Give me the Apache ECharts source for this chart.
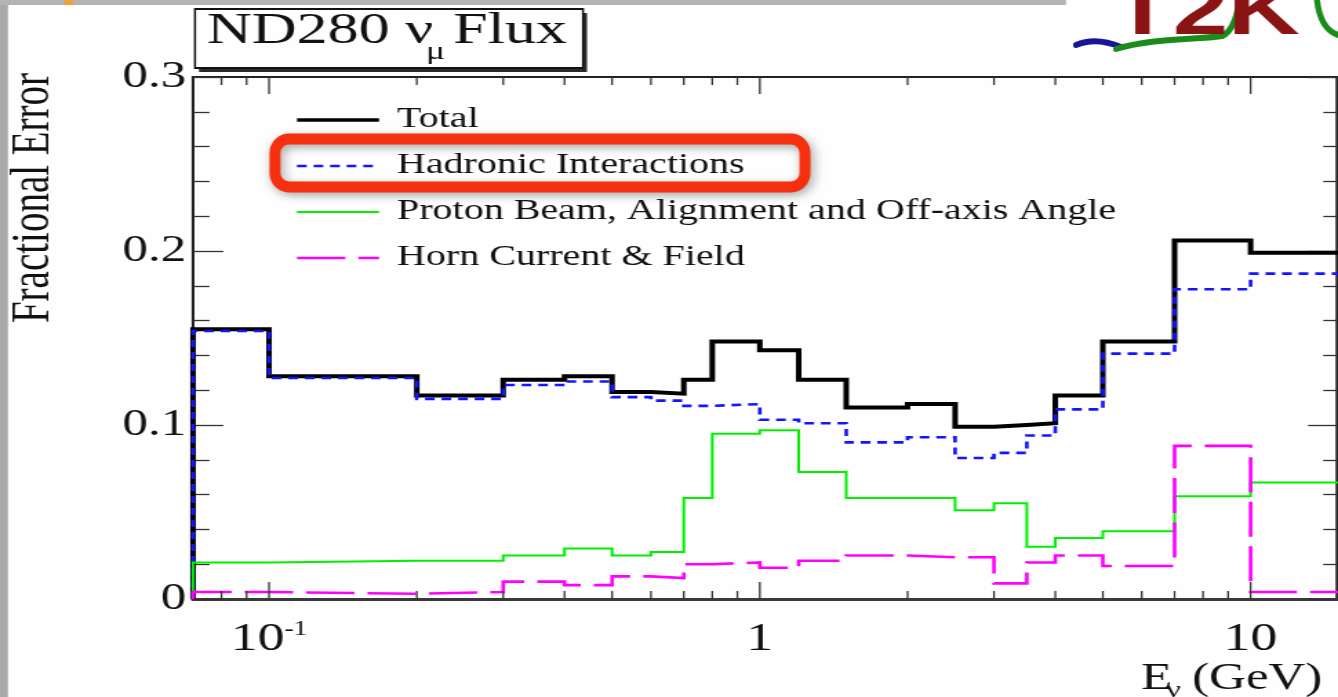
<!DOCTYPE html>
<html>
<head>
<meta charset="utf-8">
<script src="https://cdn.jsdelivr.net/npm/echarts@6/dist/echarts.min.js"></script>
<style>
  html, body { margin: 0; padding: 0; background: #fdfefd; overflow: hidden; }
  #chart { height: 697px; transform-origin: 0 0; }
</style>
</head>
<body>
<div id="chart"></div>
<script>
// Neutrino energy bin edges (GeV); the first bin starts at 0
const binEdges = [0, 0.1, 0.2, 0.3, 0.4, 0.5, 0.6, 0.7, 0.8, 1.0, 1.2, 1.5, 2.0, 2.5, 3.0, 3.5, 4.0, 5.0, 7.0, 10.0, 30.0];

// Fractional flux error per bin
const totalErr   = [0.155, 0.128, 0.117, 0.126, 0.128, 0.119, 0.118, 0.126, 0.148, 0.143, 0.126, 0.110, 0.112, 0.099, 0.100, 0.101, 0.117, 0.148, 0.206, 0.199];
const hadronErr  = [0.154, 0.127, 0.115, 0.123, 0.125, 0.116, 0.114, 0.111, 0.112, 0.103, 0.101, 0.090, 0.093, 0.081, 0.084, 0.094, 0.109, 0.141, 0.178, 0.187];
const beamErr    = [0.021, 0.022, 0.022, 0.025, 0.029, 0.025, 0.027, 0.058, 0.095, 0.097, 0.073, 0.058, 0.058, 0.051, 0.055, 0.030, 0.035, 0.039, 0.059, 0.067];
const hornErr    = [0.004, 0.003, 0.004, 0.010, 0.008, 0.013, 0.012, 0.020, 0.021, 0.018, 0.022, 0.025, 0.024, 0.024, 0.009, 0.021, 0.025, 0.019, 0.088, 0.004];

const seriesNames = ['Total', 'Hadronic Interactions', 'Proton Beam, Alignment and Off-axis Angle', 'Horn Current & Field'];

// Log-axis tick marks
const majorTicks = [0.1, 1, 10];
const minorTicks = [0.08, 0.09, 0.2, 0.3, 0.4, 0.5, 0.6, 0.7, 0.8, 0.9, 2, 3, 4, 5, 6, 7, 8, 9];

const X_MIN = 0.07, X_MAX = 15;
const Y_MIN = 0, Y_MAX = 0.3;

// The canvas is drawn narrow and stretched horizontally, like the original ROOT output
const PAGE_W = 1338, W = 970, S = PAGE_W / W;
const el = document.getElementById('chart');
el.style.width = W + 'px';
el.style.transform = 'scaleX(' + S + ')';
const X = v => v / S;   // page x -> canvas x

const SERIF = "'Liberation Serif', 'Times New Roman', serif";

function histPoints(vals) {
  const pts = [[X_MIN, 0]];
  vals.forEach((v, i) => pts.push([Math.max(binEdges[i], X_MIN), v]));
  pts.push([binEdges[vals.length], vals[vals.length - 1]]);
  return pts;
}

function histSeries(name, vals, color, width, dash) {
  return {
    name, type: 'line', step: 'end', data: histPoints(vals),
    symbol: 'none', silent: true, clip: true, z: 3,
    lineStyle: { color, width, type: dash || 'solid', cap: 'butt', join: 'miter' },
    itemStyle: { color }
  };
}

function tickSeries(values, len) {
  return {
    type: 'custom', coordinateSystem: 'cartesian2d', silent: true, z: 6,
    data: values.map(v => [v, 0]),
    renderItem(params, api) {
      const b = api.coord([api.value(0), Y_MIN]);
      const t = api.coord([api.value(0), Y_MAX]);
      const st = { stroke: '#333', lineWidth: 1.3 };
      return { type: 'group', children: [
        { type: 'line', shape: { x1: b[0], y1: b[1], x2: b[0], y2: b[1] - len }, style: st },
        { type: 'line', shape: { x1: t[0], y1: t[1], x2: t[0], y2: t[1] + len }, style: st }
      ]};
    }
  };
}

const colors = ['#000000', '#1414ff', '#00f000', '#ff00ff'];
const widths = [4, 2.6, 2, 2.6];
const dashes = ['solid', [7, 5], 'solid', [35, 9.5]];

function xLabel(v) {
  const e = Math.log10(v);
  const r = Math.round(e);
  if (Math.abs(e - r) > 1e-6) return '';
  if (r < 0) return '{n|10}{s|' + r + '}';
  return '{n|' + Math.pow(10, r) + '}';
}

function yLabel(v) { return v === 0 ? '0' : v.toFixed(1); }

const yAxisCommon = {
  type: 'value', min: Y_MIN, max: Y_MAX, interval: 0.1,
  splitLine: { show: false },
  axisLine: { show: true, lineStyle: { color: '#222', width: 2 } }
};

// Legend rows
const legendY = [120, 166, 212, 258];
const legendEls = [];
seriesNames.forEach((name, i) => {
  legendEls.push({
    type: 'line', z: 20,
    shape: { x1: X(297), y1: legendY[i], x2: X(379), y2: legendY[i] },
    style: { stroke: colors[i], lineWidth: i === 0 ? 3.5 : widths[i], lineDash: Array.isArray(dashes[i]) ? dashes[i] : null }
  });
  legendEls.push({
    type: 'text', z: 20, x: X(397), y: legendY[i] - 1,
    style: { text: name, fontFamily: SERIF, fontSize: 29, fill: '#111', align: 'left', verticalAlign: 'middle' }
  });
});

function curve(p, color) {
  return {
    type: 'bezierCurve', z: 12, scaleX: 1 / S,
    shape: { x1: p[0], y1: p[1], cpx1: p[2], cpy1: p[3], cpx2: p[4], cpy2: p[5], x2: p[6], y2: p[7] },
    style: { fill: null, stroke: color, lineWidth: 6, lineCap: 'round' }
  };
}

const option = {
  backgroundColor: '#fdfefd',
  animation: false,
  grid: {
    left: X(193), right: W - X(1337), top: 77, bottom: 98,
    show: true, borderColor: '#222', borderWidth: 2, backgroundColor: 'transparent',
    outerBoundsMode: 'none'
  },
  xAxis: {
    type: 'log', logBase: 10, min: X_MIN, max: X_MAX,
    axisLine: { show: true, onZero: false, lineStyle: { color: '#3a3a3a', width: 3 } },
    axisTick: { show: false }, minorTick: { show: false }, splitLine: { show: false },
    axisLabel: {
      formatter: xLabel, margin: 21, color: '#111',
      rich: {
        n: { fontFamily: SERIF, fontSize: 39, lineHeight: 39, color: '#111' },
        s: { fontFamily: SERIF, fontSize: 20, lineHeight: 20, color: '#111', verticalAlign: 'top' }
      }
    }
  },
  yAxis: [
    Object.assign({}, yAxisCommon, {
      position: 'left',
      axisTick: { show: true, inside: true, length: 22, lineStyle: { color: '#333', width: 1.3 } },
      minorTick: { show: true, splitNumber: 5, length: 12, lineStyle: { color: '#333', width: 1.3 } },
      axisLabel: { formatter: yLabel, fontFamily: SERIF, fontSize: 37, color: '#111', margin: 5 }
    }),
    Object.assign({}, yAxisCommon, {
      position: 'right',
      axisTick: { show: true, inside: true, length: 21, lineStyle: { color: '#333', width: 1.3 } },
      minorTick: { show: true, splitNumber: 5, length: 10, lineStyle: { color: '#333', width: 1.3 } },
      axisLabel: { show: false }
    })
  ],
  series: [
    histSeries(seriesNames[0], totalErr,  colors[0], widths[0], dashes[0]),
    histSeries(seriesNames[1], hadronErr, colors[1], widths[1], dashes[1]),
    histSeries(seriesNames[2], beamErr,   colors[2], widths[2], dashes[2]),
    histSeries(seriesNames[3], hornErr,   colors[3], widths[3], dashes[3]),
    tickSeries(minorTicks, 8),
    tickSeries(majorTicks, 17)
  ],
  graphic: { elements: [
    // page edges
    { type: 'rect', z: 30, scaleX: 1 / S, shape: { x: 0, y: 0, width: 8, height: 697 }, style: { fill: '#a9a9a9' } },
    { type: 'rect', z: 30, scaleX: 1 / S, shape: { x: 0, y: 0, width: 1066, height: 5 }, style: { fill: '#b3b3b3' } },
    { type: 'rect', z: 31, scaleX: 1 / S, shape: { x: 64, y: 0, width: 9, height: 5 }, style: { fill: '#f0a03c' } },

    // title pave with shadow
    { type: 'rect', z: 10, scaleX: 1 / S, shape: { x: 199, y: 13, width: 388, height: 59 }, style: { fill: '#2a2a2a' } },
    { type: 'rect', z: 11, scaleX: 1 / S, shape: { x: 195, y: 9, width: 388, height: 59 }, style: { fill: '#fdfefd', stroke: '#111', lineWidth: 2 } },
    { type: 'text', z: 12, x: X(207), y: 31, style: { text: 'ND280 ν', fontFamily: SERIF, fontSize: 45, fill: '#111', align: 'left', verticalAlign: 'middle' } },
    { type: 'text', z: 12, x: X(426), y: 52, style: { text: 'μ', fontFamily: SERIF, fontSize: 26, fill: '#111', align: 'left', verticalAlign: 'middle' } },
    { type: 'text', z: 12, x: X(453), y: 31, style: { text: 'Flux', fontFamily: SERIF, fontSize: 45, fill: '#111', align: 'left', verticalAlign: 'middle' } },

    // axis titles
    { type: 'text', z: 12, x: X(33.5), y: 198, rotation: Math.PI / 2,
      style: { text: 'Fractional Error', fontFamily: SERIF, fontSize: 39, fill: '#111', align: 'center', verticalAlign: 'middle' } },
    { type: 'text', z: 12, x: X(1141), y: 679, style: { text: 'E', fontFamily: SERIF, fontSize: 37, fill: '#111', align: 'left', verticalAlign: 'middle' } },
    { type: 'text', z: 12, x: X(1166), y: 691, style: { text: 'ν', fontFamily: SERIF, fontSize: 24, fill: '#111', align: 'left', verticalAlign: 'middle' } },
    { type: 'text', z: 12, x: X(1192), y: 679, style: { text: '(GeV)', fontFamily: SERIF, fontSize: 37, fill: '#111', align: 'left', verticalAlign: 'middle' } },

    // T2K logo
    curve([1076, 45, 1090, 39, 1104, 40, 1121, 47], '#16169a'),
    curve([1116, 49, 1150, 38, 1195, 40, 1222, 36], '#1b8c1b'),
    curve([1222, 36, 1233, 32, 1237, 14, 1240, 0], '#1b8c1b'),
    curve([1317, 0, 1319, 18, 1326, 31, 1338, 35], '#1b8c1b'),
    { type: 'text', z: 13, x: X(1112), y: 14, style: { text: 'T2K', fontFamily: "'Liberation Sans', Arial, sans-serif", fontWeight: 'bold', fontSize: 72, fill: '#8a1414', align: 'left', verticalAlign: 'middle' } },

    // legend
    ...legendEls,

    // highlight frame around the hadronic entry
    { type: 'rect', z: 25, scaleX: 1 / S, shape: { x: 275, y: 139, width: 530, height: 48, r: 14 },
      style: { fill: null, stroke: '#f6300f', lineWidth: 11, shadowBlur: 8, shadowColor: 'rgba(0,0,0,0.35)', shadowOffsetX: 2, shadowOffsetY: 3 } }
  ]}
};

const chart = echarts.init(el, null, { renderer: 'canvas' });
chart.setOption(option);
</script>
</body>
</html>
